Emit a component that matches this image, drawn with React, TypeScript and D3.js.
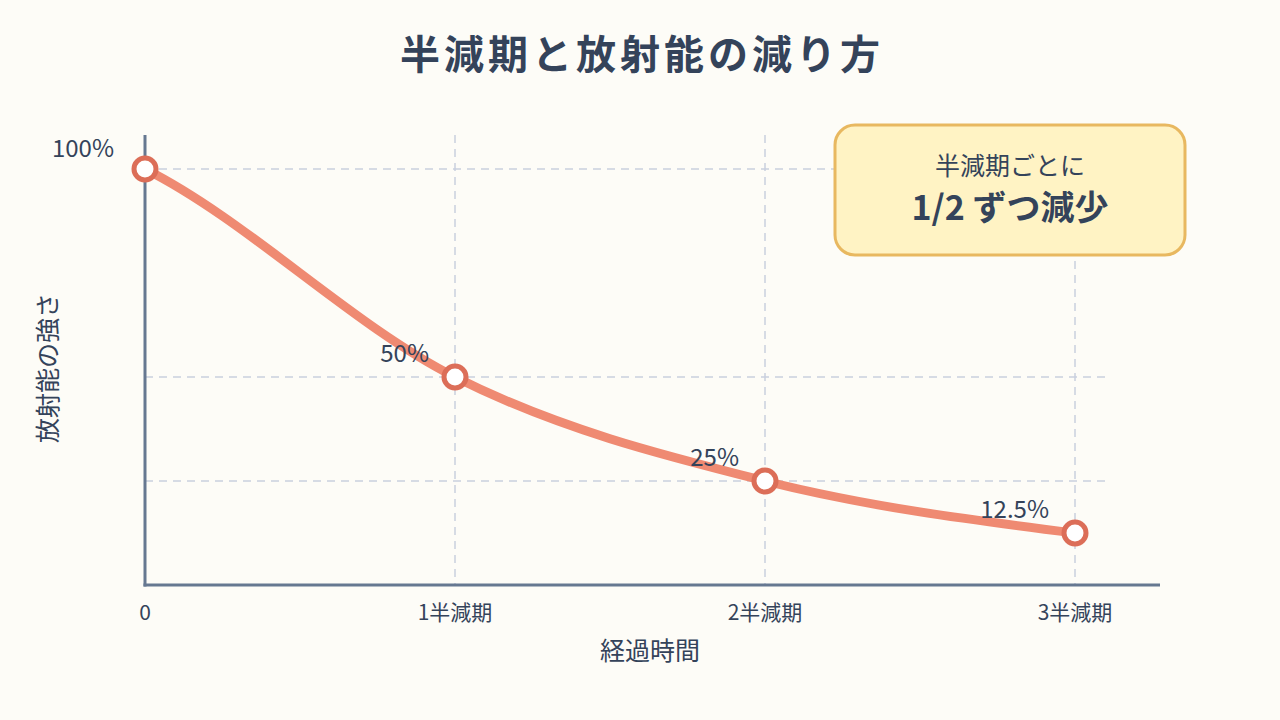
import React from "react";
import * as d3 from "d3";

const periods = [0, 1, 2, 3];
const xTickLabels = ["0", "1半減期", "2半減期", "3半減期"];
const values = [100, 50, 25, 12.5];
const valueLabels = ["100%", "50%", "25%", "12.5%"];
const gridValues = [100, 50, 25];

const W = 1280;
const H = 720;
const FONT = "'Noto Sans CJK JP', 'Noto Sans', sans-serif";
const TEXT = "#34435a";

// Smooth cubic Hermite curve: monotone interior tangents, eased end tangents.
class SoftCurve {
  _context: any;
  _xs: number[] = [];
  _ys: number[] = [];
  _line: number = NaN;
  constructor(context: any) {
    this._context = context;
  }
  areaStart() {
    this._line = 0;
  }
  areaEnd() {
    this._line = NaN;
  }
  lineStart() {
    this._xs = [];
    this._ys = [];
  }
  point(x: number, y: number) {
    this._xs.push(+x);
    this._ys.push(+y);
  }
  lineEnd() {
    const xs = this._xs;
    const ys = this._ys;
    const n = xs.length;
    const ctx = this._context;
    if (n === 0) return;
    if (this._line) ctx.lineTo(xs[0], ys[0]);
    else ctx.moveTo(xs[0], ys[0]);
    if (n === 1) return;
    const sec: number[] = [];
    for (let i = 0; i < n - 1; i++) sec.push((ys[i + 1] - ys[i]) / (xs[i + 1] - xs[i]));
    const m: number[] = new Array(n);
    m[0] = 0.75 * sec[0];
    m[n - 1] = 0.75 * sec[n - 2];
    for (let i = 1; i < n - 1; i++) {
      const h0 = xs[i] - xs[i - 1];
      const h1 = xs[i + 1] - xs[i];
      const s0 = sec[i - 1];
      const s1 = sec[i];
      const p = (s0 * h1 + s1 * h0) / (h0 + h1);
      m[i] = (Math.sign(s0) + Math.sign(s1)) * Math.min(Math.abs(s0), Math.abs(s1), 0.5 * Math.abs(p)) || 0;
    }
    for (let i = 0; i < n - 1; i++) {
      const h = (xs[i + 1] - xs[i]) / 3;
      ctx.bezierCurveTo(xs[i] + h, ys[i] + m[i] * h, xs[i + 1] - h, ys[i + 1] - m[i + 1] * h, xs[i + 1], ys[i + 1]);
    }
    this._line = 1 - this._line;
  }
}
const curveSoft = (context: any) => new SoftCurve(context);

export default function App() {
  const x = d3.scaleLinear().domain([0, 3]).range([145, 1075]);
  const y = d3.scaleLinear().domain([0, 100]).range([585, 169]);
  const pts = periods.map((p, i) => [x(p), y(values[i])] as [number, number]);
  const line = d3.line().curve(curveSoft as any)(pts) as string;

  return (
    <svg width={W} height={H} style={{ position: "absolute", left: 0, top: 0, fontFamily: FONT }}>
      <rect width={W} height={H} fill="#fdfcf7" />
      <text x={642} y={69} textAnchor="middle" fontSize={40} fontWeight={700} fill={TEXT} letterSpacing={4}>
        半減期と放射能の減り方
      </text>
      {gridValues.map((v) => (
        <line key={"h" + v} x1={145} x2={1110} y1={y(v)} y2={y(v)} stroke="#c9d0de" strokeWidth={1.5} strokeDasharray="8,6" />
      ))}
      {periods.slice(1).map((p) => (
        <line key={"v" + p} x1={x(p)} x2={x(p)} y1={135} y2={585} stroke="#c9d0de" strokeWidth={1.5} strokeDasharray="8,6" />
      ))}
      <line x1={145} x2={145} y1={135} y2={586.5} stroke="#667891" strokeWidth={3} />
      <line x1={143.5} x2={1160} y1={585} y2={585} stroke="#667891" strokeWidth={3} />
      <path d={line} fill="none" stroke="#ef8a72" strokeWidth={9} strokeLinecap="round" />
      {pts.map((p, i) => (
        <circle key={"c" + i} cx={p[0]} cy={p[1]} r={11} fill="#ffffff" stroke="#dc6e58" strokeWidth={5} />
      ))}
      {pts.map((p, i) => (
        <text key={"l" + i} x={p[0] - (i === 0 ? 31 : 26)} y={p[1] - (i === 0 ? 12 : 15.5)} textAnchor="end" fontSize={24} fill={TEXT}>
          {valueLabels[i]}
        </text>
      ))}
      {periods.map((p, i) => (
        <text key={"t" + i} x={x(p)} y={620} textAnchor="middle" fontSize={21} fill={TEXT}>
          {xTickLabels[i]}
        </text>
      ))}
      <text x={650} y={660} textAnchor="middle" fontSize={25} fill={TEXT}>経過時間</text>
      <text transform="translate(57,368) rotate(-90)" textAnchor="middle" fontSize={25} fill={TEXT}>放射能の強さ</text>
      <rect x={835} y={125} width={350} height={130} rx={20} fill="#fff3c4" stroke="#e8b860" strokeWidth={3} />
      <text x={1010} y={175} textAnchor="middle" fontSize={25} fill={TEXT}>半減期ごとに</text>
      <text x={1010} y={220} textAnchor="middle" fontSize={34} fontWeight={700} fill={TEXT}>1/2 ずつ減少</text>
    </svg>
  );
}
